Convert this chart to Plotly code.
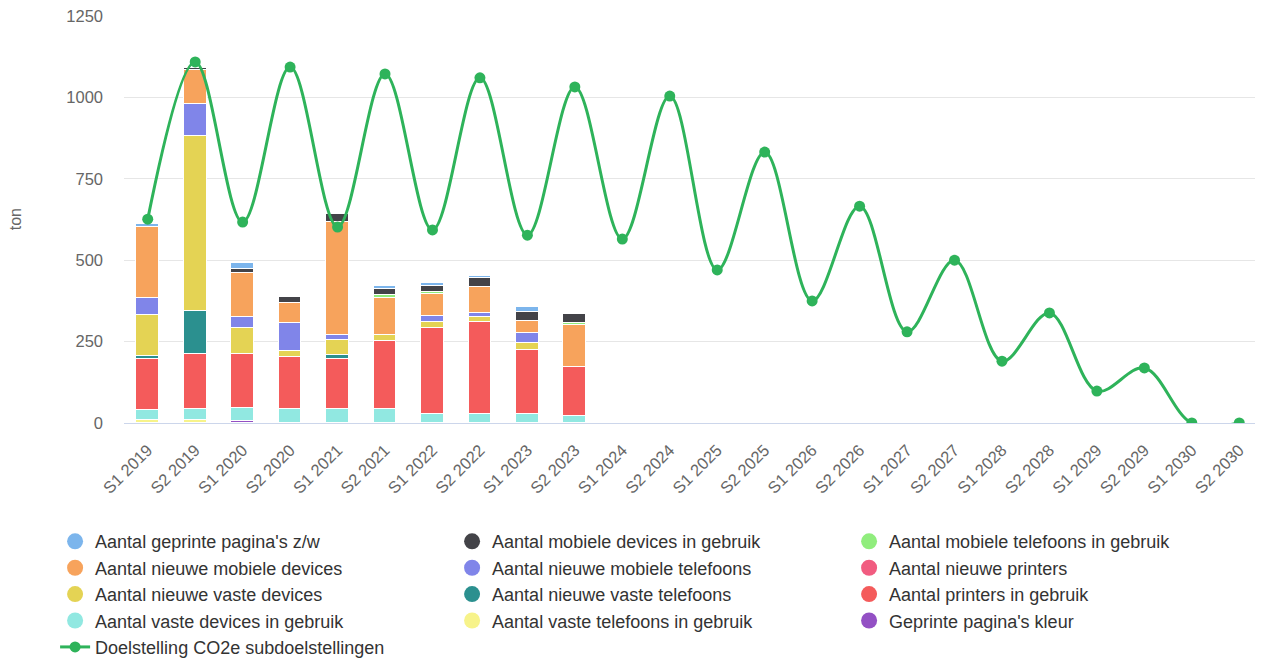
import plotly.graph_objects as go

categories = ["S1 2019", "S2 2019", "S1 2020", "S2 2020", "S1 2021", "S2 2021",
              "S1 2022", "S2 2022", "S1 2023", "S2 2023", "S1 2024", "S2 2024",
              "S1 2025", "S2 2025", "S1 2026", "S2 2026", "S1 2027", "S2 2027",
              "S1 2028", "S2 2028", "S1 2029", "S2 2029", "S1 2030", "S2 2030"]

# stacked series (values in ton), first 10 periods have data
geprinte_zw          = [10, 0, 20, 0, 0, 8, 9, 7, 14, 0]
mobiele_dev_gebruik  = [0, 6, 10, 20, 25, 20, 20, 26, 28, 28]
mobiele_tel_gebruik  = [0, 0, 0, 0, 0, 7, 7, 0, 0, 8]
nieuwe_mobiele_dev   = [217, 102, 137, 62, 347, 114, 66, 81, 37, 127]
nieuwe_mobiele_tel   = [52, 100, 33, 86, 15, 0, 19, 13, 32, 0]
nieuwe_printers      = [0, 0, 0, 0, 0, 0, 0, 0, 0, 0]
nieuwe_vaste_dev     = [126, 538, 80, 18, 46, 18, 19, 16, 21, 0]
nieuwe_vaste_tel     = [10, 131, 0, 0, 10, 0, 0, 0, 0, 0]
printers_gebruik     = [155, 170, 165, 159, 155, 211, 264, 282, 197, 152]
vaste_dev_gebruik    = [32, 33, 42, 43, 43, 42, 27, 27, 27, 21]
vaste_tel_gebruik    = [9, 9, 0, 0, 0, 0, 0, 0, 0, 0]
geprinte_kleur       = [0, 0, 5, 0, 0, 0, 0, 0, 0, 0]

doelstelling = [626, 1109, 617, 1093, 602, 1072, 593, 1060, 577, 1032, 565, 1004,
                470, 832, 375, 666, 280, 500, 190, 338, 98, 169, 0, 0]

series = [
    ("Aantal geprinte pagina's z/w", geprinte_zw, "#7cb5ec"),
    ("Aantal mobiele devices in gebruik", mobiele_dev_gebruik, "#434348"),
    ("Aantal mobiele telefoons in gebruik", mobiele_tel_gebruik, "#90ed7d"),
    ("Aantal nieuwe mobiele devices", nieuwe_mobiele_dev, "#f7a35c"),
    ("Aantal nieuwe mobiele telefoons", nieuwe_mobiele_tel, "#8085e9"),
    ("Aantal nieuwe printers", nieuwe_printers, "#f15c80"),
    ("Aantal nieuwe vaste devices", nieuwe_vaste_dev, "#e4d354"),
    ("Aantal nieuwe vaste telefoons", nieuwe_vaste_tel, "#2b908f"),
    ("Aantal printers in gebruik", printers_gebruik, "#f45b5b"),
    ("Aantal vaste devices in gebruik", vaste_dev_gebruik, "#91e8e1"),
    ("Aantal vaste telefoons in gebruik", vaste_tel_gebruik, "#f7f38a"),
    ("Geprinte pagina's kleur", geprinte_kleur, "#9350c4"),
]
line_color = "#2eb35a"

fig = go.Figure()

# bars: first series is drawn on top, so add in reverse order
for name, vals, col in reversed(series):
    fig.add_trace(go.Bar(
        x=categories[:len(vals)], y=vals, name=name, width=0.48,
        marker=dict(color=col, line=dict(color="white", width=1)),
        showlegend=False, hoverinfo="y+name"))

# legend entries with round symbols
for i, (name, vals, col) in enumerate(series):
    fig.add_trace(go.Scatter(
        x=[None], y=[None], mode="markers", name=name,
        marker=dict(color=col, size=16, symbol="circle"),
        legendrank=i + 1))

fig.add_trace(go.Scatter(
    x=categories, y=doelstelling, name="Doelstelling CO2e subdoelstellingen",
    mode="lines+markers", line=dict(color=line_color, width=3, shape="spline", smoothing=1.0),
    marker=dict(color=line_color, size=11), legendrank=20, cliponaxis=True))

fig.update_layout(
    width=1255, height=651,
    barmode="stack",
    bargap=0,
    plot_bgcolor="white", paper_bgcolor="white",
    font=dict(family="Liberation Sans, Arial, sans-serif", size=16, color="#666666"),
    margin=dict(l=116, r=0, t=8, b=236, autoexpand=False),
    showlegend=True,
    legend=dict(
        orientation="h", x=-0.0605, xanchor="left", y=-0.246, yanchor="top",
        entrywidth=352, entrywidthmode="pixels", itemsizing="trace",
        font=dict(size=18, color="#333333"), traceorder="normal",
        bgcolor="rgba(0,0,0,0)", tracegroupgap=0),
    xaxis=dict(
        type="category", categoryorder="array", categoryarray=categories,
        range=[-0.5, len(categories) - 0.5], automargin=False,
        tickangle=-45, showgrid=False, showline=True, linecolor="#ccd6eb",
        linewidth=1, ticks="", ticklabelstandoff=10,
        tickfont=dict(size=16.5, color="#666666")),
    yaxis=dict(
        range=[0, 1250], tickvals=[0, 250, 500, 750, 1000, 1250], automargin=False,
        showgrid=True, gridcolor="#e6e6e6", gridwidth=1, zeroline=False,
        ticks="", ticklen=0, ticklabelstandoff=20, ticklabeloverflow="allow",
        tickfont=dict(size=16.5, color="#666666")),
    annotations=[dict(text="ton", xref="paper", yref="paper", x=-0.095, y=0.5,
                      xanchor="center", yanchor="middle", textangle=-90, showarrow=False,
                      font=dict(size=16, color="#666666"))],
)

fig.write_html("out.html")
